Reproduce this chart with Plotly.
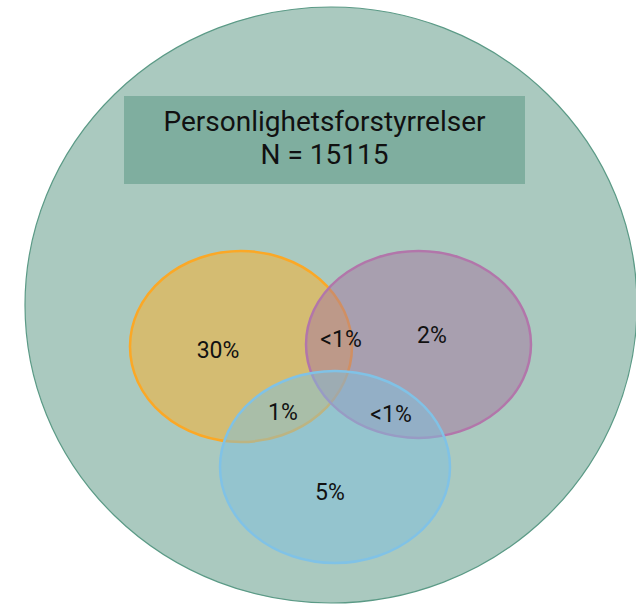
import plotly.graph_objects as go

# ---- data ----
title_lines = ["Personlighetsforstyrrelser", "N = 15115"]
region_labels = ["30%", "<1%", "2%", "1%", "<1%", "5%"]
set_names = ["A", "B", "C"]

# ---- layout (screen pixel space of the 636x604 window) ----
W, H = 636, 604
label_x = [218, 341, 432, 283, 391, 330]
label_y = [352, 341, 337, 414, 416, 494]

universe = dict(x0=25, y0=7, x1=637, y1=603)
set_boxes = [
    dict(x0=130, y0=251, x1=352, y1=442),   # orange
    dict(x0=306, y0=251, x1=531, y1=438),   # purple
    dict(x0=220, y0=371, x1=450, y1=563),   # blue
]
set_fill = ["rgba(254,175,38,0.5)", "rgba(166,117,160,0.5)", "rgba(126,191,222,0.5)"]
set_line = ["rgba(251,168,38,1)", "rgba(178,118,170,1)", "rgba(128,194,230,1)"]

shapes = [
    dict(type="circle", xref="x", yref="y", layer="below",
         fillcolor="#aac9bf", line=dict(color="#5b9a86", width=1.2), **universe),
    dict(type="rect", xref="x", yref="y", layer="below",
         x0=124, y0=96, x1=525, y1=184, fillcolor="#7fae9f", line=dict(width=0)),
]
for box, fc, lc in zip(set_boxes, set_fill, set_line):
    shapes.append(dict(type="circle", xref="x", yref="y", layer="below",
                       fillcolor=fc, line=dict(color=lc, width=2.5), **box))

fig = go.Figure()
fig.add_trace(go.Scatter(
    x=label_x, y=label_y, mode="text", text=region_labels,
    textposition="middle center",
    textfont=dict(family="Roboto", size=23, color="#111111"),
    hoverinfo="skip", showlegend=False,
))
fig.add_trace(go.Scatter(
    x=[324.5, 324.5], y=[124, 157], mode="text", text=title_lines,
    textposition="middle center",
    textfont=dict(family="Roboto", size=28, color="#111111"),
    hoverinfo="skip", showlegend=False,
))

fig.update_layout(
    width=W, height=H,
    margin=dict(l=0, r=0, t=0, b=0),
    paper_bgcolor="white", plot_bgcolor="white",
    shapes=shapes,
    xaxis=dict(range=[0, W], visible=False, fixedrange=True),
    yaxis=dict(range=[H, 0], visible=False, fixedrange=True),
    showlegend=False,
)
fig.write_html(
    "out.html",
    config={"displayModeBar": False},
    post_script="document.body.style.margin='0';document.body.style.overflow='hidden';",
)
